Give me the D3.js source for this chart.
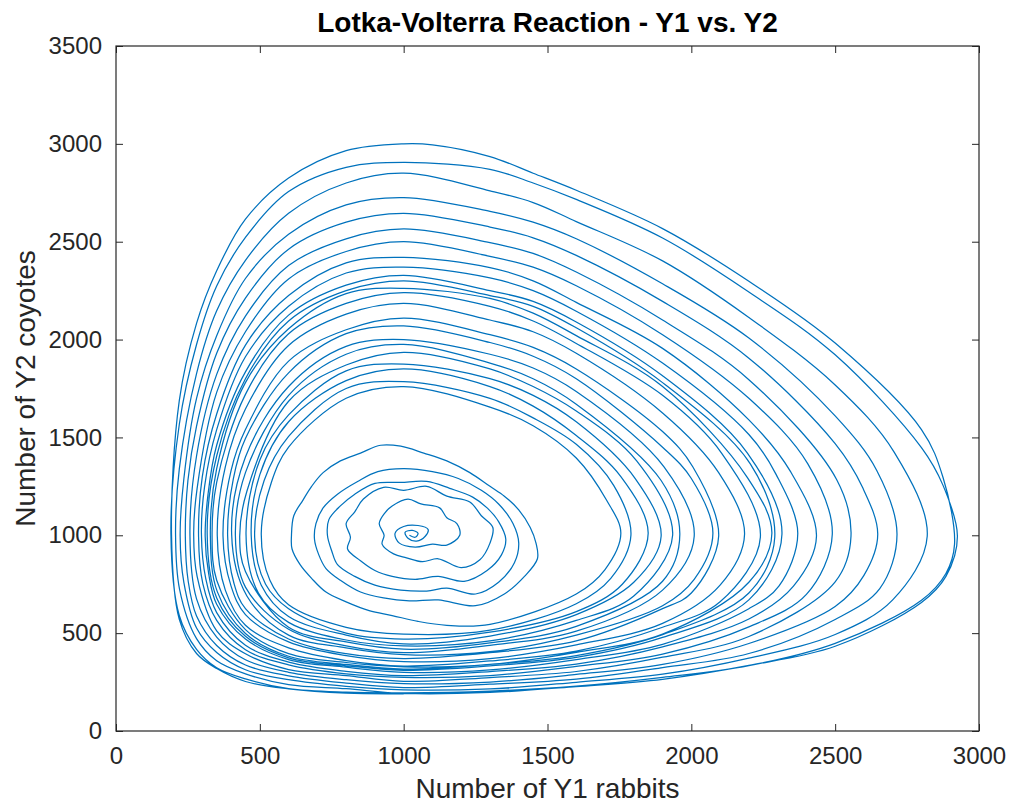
<!DOCTYPE html>
<html>
<head>
<meta charset="utf-8">
<script src="https://cdn.jsdelivr.net/npm/d3@7"></script>
<style>
  html, body { margin: 0; padding: 0; background: #ffffff; }
  svg { display: block; }
  text { font-family: "Liberation Sans", Arial, Helvetica, sans-serif; }
</style>
</head>
<body>
<div id="chart"></div>
<script>
// ---- axis ticks ----
const xTicks = [0, 500, 1000, 1500, 2000, 2500, 3000];
const yTicks = [0, 500, 1000, 1500, 2000, 2500, 3000, 3500];

// ---- trajectory (Y1 rabbits, Y2 coyotes) ----
const inner0 = [[1020,1000],[1040,990],[1050,1010],[1030,1025],[1005,1015],[1015,985],[1045,970],[1075,995],[1085,1030],[1050,1050],[1000,1045],[970,1010],[985,960],[1040,940],[1100,955]];
const inner1 = [[1150,950],[1195,1000],[1185,1060],[1150,1090],[1125,1140],[1060,1160],[1015,1185],[960,1150],[935,1115],[915,1060],[932,1000],[925,955],[965,905],[1010,885],[1065,865],[1120,880]];
const inner2 = [[1200,835],[1265,875],[1300,960],[1310,1040],[1270,1100],[1230,1170],[1150,1200],[1080,1250],[1000,1230],[930,1245],[860,1185],[830,1120],[800,1060],[815,990],[805,930],[850,870],[900,820],[960,790],[1040,775],[1120,790]];
const inner3 = [[1210,765],[1290,820],[1340,900],[1355,980],[1330,1070],[1290,1140],[1240,1195],[1160,1240],[1080,1275],[990,1270],[900,1265],[830,1210],[780,1150],[740,1080],[735,1000],[750,920],[770,850],[830,790],[900,745],[990,720],[1080,715],[1150,730]];
const inner4 = [[1250,700],[1330,760],[1385,860],[1400,960],[1380,1060],[1330,1160],[1270,1230],[1190,1290],[1100,1325],[1000,1340],[910,1325],[840,1275],[770,1210],[720,1140],[695,1060],[690,980],[705,900],[730,830],[780,770],[850,710],[930,680],[1020,665],[1120,670]];
const inner5 = [[1250,640],[1350,700],[1420,790],[1465,880],[1460,960],[1440,1040],[1400,1130],[1350,1200],[1300,1250],[1230,1320],[1150,1380],[1070,1420],[990,1455],[920,1460],[850,1420],[780,1380],[720,1320],[680,1250],[650,1180],[618,1100],[610,1000],[612,930],[640,850],[680,780],[730,710],[800,660],[880,615],[960,590],[1050,560]];

const loop01 = [[1150,540],[1300,545],[1600,700],[1700,825],[1755,1010],[1705,1180],[1600,1395],[1450,1560],[1300,1655],[1000,1760],[800,1700],[600,1450],[540,1270],[505,1010],[535,770],[600,645],[800,530]];
const loop02 = [[1000,495],[1300,515],[1600,650],[1720,780],[1790,1000],[1730,1255],[1600,1465],[1450,1600],[1300,1700],[1000,1785],[800,1750],[600,1505],[515,1280],[482,990],[520,750],[600,625],[800,500]];
const loop03 = [[1000,470],[1300,505],[1600,610],[1760,750],[1850,1010],[1755,1300],[1600,1510],[1450,1660],[1300,1760],[1000,1850],[800,1790],[600,1580],[500,1310],[470,1000],[505,745],[600,585],[800,490]];
const loop04 = [[1000,445],[1300,485],[1600,595],[1800,760],[1895,995],[1805,1290],[1600,1580],[1450,1715],[1300,1800],[1000,1875],[800,1840],[600,1615],[500,1385],[452,1005],[495,705],[600,555],[800,465]];
const loop05 = [[1000,435],[1300,460],[1600,565],[1800,690],[1935,1000],[1810,1380],[1600,1635],[1450,1760],[1300,1850],[1000,1935],[800,1870],[600,1685],[455,1225],[430,990],[450,815],[600,530],[800,455]];
const loop06 = [[1000,418],[1300,450],[1600,535],[1900,765],[1960,1005],[1895,1280],[1600,1670],[1450,1800],[1300,1880],[1000,1975],[800,1925],[600,1715],[450,1320],[415,1000],[450,735],[600,520],[800,435]];
const loop07 = [[1000,400],[1300,438],[1600,510],[1900,720],[2010,995],[1905,1350],[1600,1735],[1450,1855],[1300,1925],[1000,2000],[800,1965],[600,1760],[450,1400],[402,1005],[455,690],[600,490],[800,425]];
const loop08 = [[1000,390],[1300,405],[1600,490],[1900,640],[2010,775],[2075,1010],[2000,1290],[1900,1450],[1600,1800],[1450,1915],[1300,1985],[1000,2070],[800,2030],[600,1830],[450,1495],[408,1290],[388,1000],[410,755],[450,625],[600,470],[800,395]];
const loop09 = [[1000,370],[1300,400],[1600,460],[1900,625],[2000,705],[2095,995],[2005,1350],[1900,1530],[1600,1850],[1450,1960],[1300,2025],[1000,2110],[800,2050],[600,1890],[450,1540],[400,1330],[372,995],[400,740],[450,595],[600,455],[800,385]];
const loop10 = [[1000,355],[1300,370],[1600,440],[1900,550],[2100,745],[2185,1005],[2095,1320],[1900,1625],[1600,1930],[1450,2040],[1300,2100],[1000,2185],[800,2130],[600,1970],[450,1645],[380,1350],[352,1000],[380,720],[450,540],[600,425],[800,360]];
const loop11 = [[1000,332],[1300,358],[1600,408],[1900,530],[2100,660],[2240,990],[2105,1420],[1900,1715],[1600,1980],[1450,2095],[1300,2170],[1000,2240],[800,2185],[600,2030],[450,1720],[350,1270],[334,1000],[350,770],[450,518],[600,395],[800,350]];
const loop12 = [[1000,328],[1300,340],[1600,402],[1900,495],[2200,760],[2280,1010],[2195,1295],[1900,1760],[1600,2020],[1450,2135],[1300,2210],[1000,2262],[800,2235],[600,2055],[450,1780],[350,1340],[328,995],[352,712],[450,498],[600,382],[800,340]];
const loop13 = [[1000,316],[1300,340],[1600,385],[1900,492],[2200,705],[2290,990],[2205,1365],[1900,1780],[1600,2060],[1450,2170],[1300,2225],[1000,2300],[800,2250],[600,2095],[450,1800],[350,1405],[317,1005],[350,680],[450,484],[600,374],[800,333]];
const loop14 = [[1000,310],[1300,333],[1600,376],[1900,478],[2200,670],[2315,1005],[2195,1420],[1900,1815],[1600,2090],[1450,2195],[1300,2250],[1000,2328],[800,2278],[600,2125],[450,1835],[350,1460],[320,1210],[310,995],[322,805],[350,648],[450,470],[600,365],[800,326]];
const loop15 = [[1000,300],[1300,312],[1600,365],[1900,443],[2200,625],[2305,742],[2370,1010],[2295,1310],[2200,1515],[1900,1880],[1600,2145],[1450,2250],[1300,2315],[1000,2370],[800,2340],[600,2170],[450,1912],[350,1540],[308,1250],[297,1005],[312,778],[350,605],[450,438],[600,352],[800,305]];
const loop16 = [[1000,283],[1300,304],[1600,342],[1900,430],[2200,572],[2355,740],[2435,995],[2345,1325],[2200,1590],[1900,1955],[1600,2190],[1450,2300],[1300,2368],[1000,2420],[800,2392],[600,2225],[450,1972],[350,1620],[300,1300],[287,995],[302,752],[350,565],[450,415],[600,338],[800,292]];
const loop17 = [[1000,274],[1300,283],[1600,330],[1900,393],[2200,532],[2400,698],[2490,1005],[2405,1365],[2200,1700],[1900,2025],[1600,2275],[1450,2370],[1300,2425],[1000,2500],[800,2450],[600,2310],[450,2040],[350,1730],[282,1240],[270,1005],[282,790],[350,512],[450,395],[600,314],[800,283]];
const loop18 = [[1000,254],[1300,273],[1600,304],[1900,377],[2200,483],[2500,762],[2555,995],[2505,1285],[2200,1795],[1900,2100],[1600,2345],[1450,2440],[1300,2495],[1000,2565],[800,2515],[600,2378],[450,2120],[350,1822],[280,1405],[257,1005],[280,675],[350,480],[450,364],[600,300],[800,262]];
const loop19 = [[1000,242],[1300,250],[1600,289],[1900,340],[2200,447],[2500,636],[2600,795],[2648,1005],[2595,1245],[2500,1468],[2200,1905],[1900,2195],[1600,2430],[1450,2520],[1300,2575],[1000,2645],[800,2600],[600,2462],[450,2212],[350,1930],[280,1558],[250,1280],[241,995],[251,765],[280,588],[350,437],[450,337],[600,282],[800,245]];
const loop20 = [[1000,222],[1300,239],[1600,265],[1900,324],[2200,396],[2500,570],[2655,728],[2715,1005],[2645,1330],[2500,1610],[2200,2008],[1900,2285],[1600,2515],[1450,2600],[1300,2655],[1000,2725],[800,2688],[600,2538],[450,2312],[350,2020],[280,1700],[236,1290],[223,995],[236,758],[280,526],[350,401],[450,313],[600,262],[800,228]];
const loop21 = [[1000,210],[1300,215],[1600,249],[1900,290],[2200,372],[2500,493],[2700,670],[2820,995],[2705,1425],[2500,1768],[2200,2113],[1900,2402],[1600,2603],[1450,2700],[1300,2760],[1000,2850],[800,2800],[600,2645],[450,2405],[350,2147],[280,1826],[220,1338],[207,1005],[221,724],[280,472],[350,359],[450,292],[600,237],[800,216]];
const loop22 = [[1000,192],[1300,197],[1600,227],[1900,264],[2200,335],[2500,433],[2800,657],[2885,790],[2925,995],[2875,1255],[2800,1448],[2500,1922],[2200,2243],[1900,2519],[1600,2716],[1450,2800],[1300,2870],[1000,2905],[800,2880],[600,2756],[450,2522],[350,2274],[280,1975],[220,1566],[191,1005],[220,590],[280,417],[350,323],[450,266],[600,216],[800,198]];
const loop23 = [[1000,195],[1300,204],[1600,229],[1900,274],[2200,334],[2500,448],[2800,668],[2885,805],[2915,955],[2875,1295],[2800,1540],[2500,1982],[2200,2298],[1900,2567],[1600,2763],[1450,2850],[1300,2935],[1100,2995],[1000,3000],[800,2965],[600,2825],[450,2615],[350,2352],[280,2083],[220,1688],[193,1005],[220,570],[280,396],[350,319],[450,253],[600,215],[800,193],[1000,190]];

const trajectory = [].concat(
  inner0, inner1, inner2, inner3, inner4, inner5,
  loop01, loop02, loop03, loop04, loop05, loop06, loop07, loop08,
  loop09, loop10, loop11, loop12, loop13, loop14, loop15, loop16,
  loop17, loop18, loop19, loop20, loop21, loop22, loop23
);

// ---- layout ----
const W = 1016, H = 809;
const plot = { left: 116, right: 979, top: 46, bottom: 731 };

const svg = d3.select("#chart").append("svg")
  .attr("width", W).attr("height", H);

const x = d3.scaleLinear().domain([0, 3000]).range([plot.left, plot.right]);
const y = d3.scaleLinear().domain([0, 3500]).range([plot.bottom, plot.top]);

const axisColor = "#262626";
const tickLen = 7;

const clipId = "plotclip";
svg.append("clipPath").attr("id", clipId).append("rect")
  .attr("x", plot.left).attr("y", plot.top)
  .attr("width", plot.right - plot.left).attr("height", plot.bottom - plot.top);

const line = d3.line()
  .x(d => x(d[0]))
  .y(d => y(d[1]))
  .curve(d3.curveCatmullRom.alpha(0.5));

svg.append("path")
  .datum(trajectory)
  .attr("clip-path", `url(#${clipId})`)
  .attr("fill", "none")
  .attr("stroke", "#0072BD")
  .attr("stroke-width", 1.25)
  .attr("stroke-linejoin", "round")
  .attr("d", line);

function styleAxis(g) {
  g.select(".domain").remove();
  g.selectAll(".tick line").attr("stroke", axisColor).attr("stroke-width", 1);
  g.selectAll(".tick text").attr("fill", axisColor)
    .style("font-size", "24px")
    .style("font-family", '"Liberation Sans", Arial, sans-serif');
}

svg.append("g")
  .attr("transform", `translate(0,${plot.bottom})`)
  .call(d3.axisBottom(x).tickValues(xTicks).tickFormat(d3.format("d"))
    .tickSizeInner(-tickLen).tickSizeOuter(0).tickPadding(16))
  .call(styleAxis);

svg.append("g")
  .attr("transform", `translate(${plot.left},0)`)
  .call(d3.axisLeft(y).tickValues(yTicks).tickFormat(d3.format("d"))
    .tickSizeInner(-tickLen).tickSizeOuter(0).tickPadding(14))
  .call(styleAxis);

svg.append("g")
  .attr("transform", `translate(0,${plot.top})`)
  .call(d3.axisTop(x).tickValues(xTicks).tickFormat("")
    .tickSizeInner(-tickLen).tickSizeOuter(0))
  .call(styleAxis);

svg.append("g")
  .attr("transform", `translate(${plot.right},0)`)
  .call(d3.axisRight(y).tickValues(yTicks).tickFormat("")
    .tickSizeInner(-tickLen).tickSizeOuter(0))
  .call(styleAxis);

svg.append("rect")
  .attr("x", plot.left).attr("y", plot.top)
  .attr("width", plot.right - plot.left).attr("height", plot.bottom - plot.top)
  .attr("fill", "none").attr("stroke", axisColor).attr("stroke-width", 1.2);

svg.append("text")
  .attr("x", (plot.left + plot.right) / 2).attr("y", 798)
  .attr("text-anchor", "middle")
  .attr("fill", axisColor)
  .style("font-size", "28px")
  .text("Number of Y1 rabbits");

svg.append("text")
  .attr("transform", `translate(35,${(plot.top + plot.bottom) / 2}) rotate(-90)`)
  .attr("text-anchor", "middle")
  .attr("fill", axisColor)
  .style("font-size", "28px")
  .text("Number of Y2 coyotes");

svg.append("text")
  .attr("x", (plot.left + plot.right) / 2).attr("y", 32)
  .attr("text-anchor", "middle")
  .attr("fill", "#000000")
  .style("font-size", "28px")
  .style("font-weight", "bold")
  .text("Lotka-Volterra Reaction - Y1 vs. Y2");
</script>
</body>
</html>
